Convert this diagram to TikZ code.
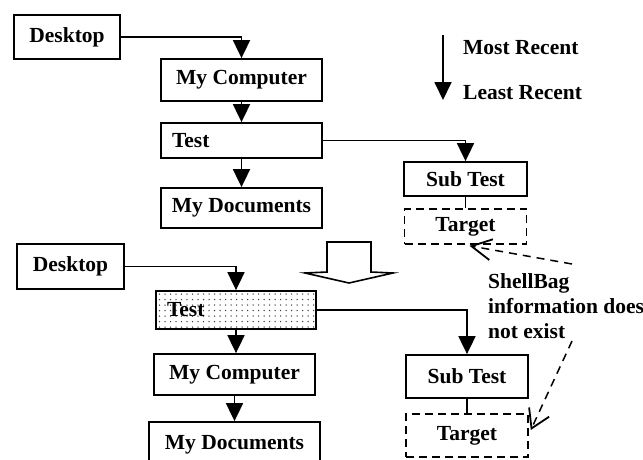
\documentclass[tikz,border=0pt]{standalone}
\usepackage{fontspec}
\setmainfont{Liberation Serif}
\usetikzlibrary{arrows.meta,patterns.meta}
\begin{document}
\begin{tikzpicture}[x=1pt,y=-1pt,
  lbl/.style={font=\bfseries\fontsize{21.5}{25}\selectfont},
  box/.style={draw, line width=1.8pt, inner sep=0pt, lbl},
  leftbox/.style={box, inner xsep=11pt, text width=#1-22pt, minimum width=#1, align=left},
  ghost/.style={box, line width=1.6pt, dash pattern=on 8pt off 5pt},
  flow/.style={line width=1.8pt, -{Triangle[length=18pt,width=17pt]}},
  link/.style={line width=1.8pt},
  note/.style={line width=1.5pt, dash pattern=on 8pt off 6pt},
  dotted fill/.style={pattern={Dots[distance=5.5pt,radius=0.75pt]}, pattern color=black!75},
]
\useasboundingbox (0,0) rectangle (643,459);
\clip (0,0) rectangle (643,459);

% ---- upper tree ----
\node[box, minimum width=106pt, minimum height=44pt] (d1)  at (67,37)      {Desktop};
\node[box, minimum width=161pt, minimum height=42pt] (mc1) at (241.5,80)   {My Computer};
\node[leftbox=161pt, minimum height=35pt]            (t1)  at (241.5,140.5){Test};
\node[box, minimum width=161pt, minimum height=40pt] (md1) at (241.5,208)  {My Documents};
\node[box, minimum width=123pt, minimum height=34pt] (st1) at (465.5,179)  {Sub Test};
\node[ghost, minimum width=122pt, minimum height=35pt] (tg1) at (465.5,226.5) {Target};

\draw[flow] (d1.east) -| (mc1.north);
\draw[flow] (mc1.south) -- (t1.north);
\draw[flow] (t1.south) -- (md1.north);
\draw[flow] (t1.east) -| (st1.north);
\draw[link] (st1.south) -- (tg1.north);

% ---- legend ----
\coordinate (lgtop) at (443,35);
\coordinate (lgbot) at (443,100);
\draw[flow] (lgtop) -- (lgbot);
\node[lbl, anchor=west, inner sep=0pt] (most)  at (463,48) {Most Recent};
\node[lbl, anchor=west, inner sep=0pt] (least) at (463,93) {Least Recent};

% ---- hollow transition arrow ----
\draw[line width=1.6pt, line join=miter]
  (327,242) -- (371,242) -- (371,272) -- (393,273) -- (349,283)
  -- (305,273) -- (327,272) -- cycle;

% ---- lower tree ----
\node[box, minimum width=107pt, minimum height=45pt] (d2)  at (70.5,266.5) {Desktop};
\node[leftbox=160pt, minimum height=38pt, dotted fill] (t2) at (236,310)  {Test};
\node[box, minimum width=161pt, minimum height=41pt] (mc2) at (234.5,374.5) {My Computer};
\node[box, minimum width=171pt, minimum height=45pt] (md2) at (234.5,444.5) {My Documents};
\node[box, minimum width=122pt, minimum height=43pt] (st2) at (467,376.5)  {Sub Test};
\node[ghost, minimum width=122pt, minimum height=43pt] (tg2) at (467,435.5) {Target};

\draw[flow] (d2.east) -| (t2.north);
\draw[flow] (t2.south) -- (t2.south |- mc2.north);
\draw[flow] (mc2.south) -- (md2.north);
\draw[flow] (t2.east) -| (st2.north);
\draw[link] (st2.south) -- (tg2.north);

% ---- annotation ----
\node[lbl, anchor=west, inner sep=0pt, align=left] (shell) at (488,306)
  {ShellBag\\information does\\not exist};
\coordinate (n1) at (572,264);
\coordinate (n2) at (572,341);
\draw[note, -{Straight Barb[length=20pt,width=21pt,line width=1.8pt]}]
  (n1) -- ([xshift=4pt,yshift=-1pt]tg1.south);
\draw[note, -{Straight Barb[length=18pt,width=22pt,line width=1.8pt]}]
  (n2) -- ([xshift=2pt,yshift=5.5pt]tg2.east);
\end{tikzpicture}
\end{document}
